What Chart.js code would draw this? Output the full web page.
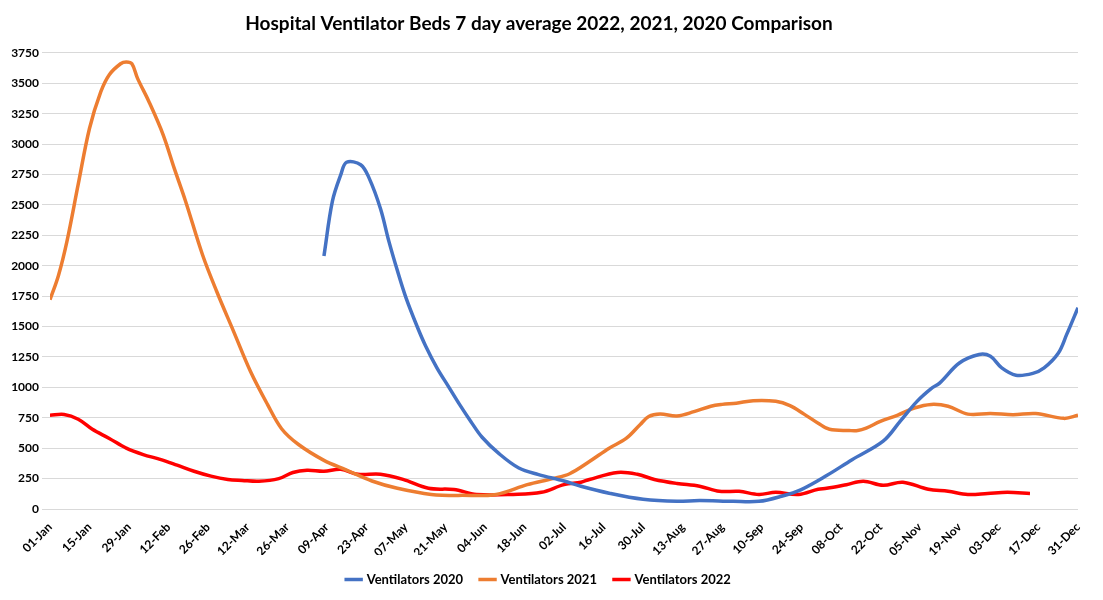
<!DOCTYPE html>
<html>
<head>
<meta charset="utf-8">
<script src="https://cdn.jsdelivr.net/npm/chart.js@4.4.1/dist/chart.umd.min.js"></script>
<style>
  html, body { margin: 0; padding: 0; background: #fff; }
  #wrap { width: 1103px; height: 600px; }
</style>
</head>
<body>
<div id="wrap"><canvas id="chart"></canvas></div>
<script>
// Day-of-year ticks, one label every 14 days
const tickLabels = ['01-Jan','15-Jan','29-Jan','12-Feb','26-Feb','12-Mar','26-Mar','09-Apr','23-Apr','07-May','21-May','04-Jun','18-Jun','02-Jul','16-Jul','30-Jul','13-Aug','27-Aug','10-Sep','24-Sep','08-Oct','22-Oct','05-Nov','19-Nov','03-Dec','17-Dec','31-Dec'];

// 2020 (starts in April)
const days2020 = [97, 100, 103, 105, 110, 113, 117, 120, 123, 126, 130, 133, 137, 141, 145, 149, 153, 159, 166, 173, 182, 188, 198, 210, 222, 230, 242, 251, 259, 266, 275, 284, 295, 301, 307, 312, 315, 322, 329, 333, 337, 342, 348, 352, 357, 360, 364];
const vent2020 = [2080, 2530, 2750, 2850, 2830, 2720, 2470, 2200, 1960, 1740, 1500, 1340, 1160, 1010, 860, 720, 590, 455, 337, 283, 230, 187, 130, 80, 63, 70, 63, 63, 105, 160, 275, 405, 557, 720, 885, 990, 1035, 1200, 1270, 1255, 1160, 1100, 1115, 1160, 1280, 1435, 1655];

// 2021
const days2021 = [0, 3, 6, 10, 14, 18, 21, 25, 27, 29, 31, 35, 40, 44, 48, 54, 59, 65, 71, 77, 82, 88, 97, 105, 114, 123, 135, 146, 158, 169, 178, 184, 191, 198, 204, 209, 212, 216, 222, 228, 234, 238, 243, 249, 257, 262, 267, 272, 276, 283, 286, 289, 294, 300, 306, 312, 318, 325, 333, 341, 349, 359, 364];
const vent2021 = [1720, 1920, 2200, 2670, 3130, 3430, 3570, 3660, 3675, 3660, 3540, 3350, 3080, 2800, 2530, 2090, 1790, 1460, 1130, 860, 660, 530, 400, 320, 230, 170, 120, 112, 120, 200, 250, 290, 390, 500, 580, 695, 760, 780, 765, 800, 845, 860, 870, 890, 885, 850, 780, 705, 655, 645, 645, 665, 720, 770, 830, 860, 845, 780, 785, 775, 785, 745, 770];

// 2022 (ends mid-December)
const days2022 = [0, 5, 10, 15, 21, 27, 33, 39, 45, 51, 57, 63, 68, 74, 81, 86, 91, 97, 103, 109, 117, 125, 134, 143, 151, 164, 174, 182, 188, 191, 201, 208, 214, 222, 230, 237, 244, 251, 257, 265, 272, 275, 282, 288, 295, 302, 311, 318, 325, 332, 339, 347];
const vent2022 = [770, 777, 738, 655, 580, 500, 447, 408, 360, 310, 270, 243, 235, 228, 250, 300, 318, 310, 327, 285, 285, 243, 170, 160, 120, 120, 137, 200, 220, 243, 300, 285, 243, 210, 187, 145, 145, 120, 137, 120, 163, 170, 200, 228, 195, 220, 162, 146, 120, 128, 137, 128];

const pts = (xs, ys) => xs.map((d, i) => ({ x: d, y: ys[i] }));

const lineDs = (label, xs, ys, color) => ({
    label: label, data: pts(xs, ys), borderColor: color, backgroundColor: color,
    borderWidth: 3.5, pointRadius: 0, tension: 0.35,
    pointStyle: 'line'
});

new Chart(document.getElementById('chart').getContext('2d'), {
    type: 'line',
    data: {
        datasets: [
            lineDs('Ventilators 2020', days2020, vent2020, '#4472C4'),
            lineDs('Ventilators 2021', days2021, vent2021, '#ED7D31'),
            lineDs('Ventilators 2022', days2022, vent2022, '#FF0000')
        ]
    },
    options: {
        responsive: true, maintainAspectRatio: false, animation: false,
        layout: { padding: { left: 0, right: 25, top: 0, bottom: 4 } },
        plugins: {
            title: { display: true, text: 'Hospital Ventilator Beds 7 day average 2022, 2021, 2020 Comparison',
                color: '#000', font: { family: 'Lato', size: 19, weight: 'bold' }, padding: { top: 12, bottom: 18 } },
            legend: { position: 'bottom',
                labels: { color: '#000', font: { family: 'Lato', size: 13, weight: 'bold' }, usePointStyle: true, boxWidth: 30, padding: 18 } },
            tooltip: { enabled: false }
        },
        scales: {
            x: {
                type: 'linear', min: 0, max: 364,
                grid: { display: false }, border: { display: false },
                ticks: { stepSize: 14, autoSkip: false, minRotation: 45, maxRotation: 45, color: '#000',
                    font: { family: 'Lato', size: 12, weight: 'bold' },
                    callback: (v) => tickLabels[Math.round(v / 14)] },
                afterFit: (scale) => { scale.height = 46; }
            },
            y: {
                min: 0, max: 3750,
                grid: { color: '#d9d9d9', lineWidth: 1 }, border: { display: false },
                ticks: { stepSize: 250, color: '#000', font: { family: 'Lato', size: 12, weight: 'bold' },
                    callback: (v) => String(v) },
                afterFit: (scale) => { scale.width = 50; }
            }
        }
    }
});
</script>
</body>
</html>
